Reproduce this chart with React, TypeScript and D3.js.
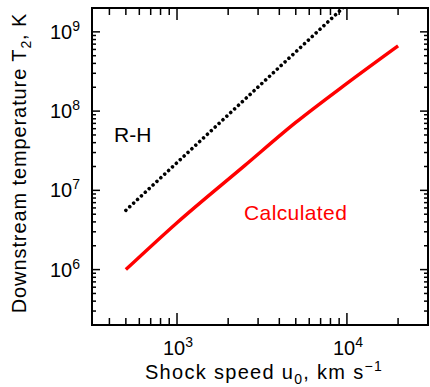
import React, { useEffect, useRef } from 'react'
import * as d3 from 'd3'

// shock speed (km/s) vs downstream temperature (K)
const calcSpeed = [500, 1000, 2500, 5000, 10000, 20000]
const calcTemp = [1.0e6, 3.9e6, 2.05e7, 7.2e7, 2.24e8, 6.66e8]

const rhSpeed = [500, 1000, 2000, 5000, 10000]
const rhTemp = [5.6e6, 2.24e7, 8.96e7, 5.6e8, 2.24e9]

const xDomain = [316, 30000]
const yDomain = [2e5, 2e9]
const xMajor = [1e3, 1e4]
const yMajor = [1e6, 1e7, 1e8, 1e9]

const FONT = '"Liberation Sans", Arial, sans-serif'

export default function App() {
  const svgRef = useRef<SVGSVGElement>(null)

  useEffect(() => {
    const width = 430
    const height = 387
    const margin = { top: 8, right: 2, bottom: 62, left: 92 }
    const left = margin.left
    const right = width - margin.right
    const top = margin.top
    const bottom = height - margin.bottom

    const svg = d3.select(svgRef.current)
    svg.selectAll('*').remove()

    const x = d3.scaleLog().domain(xDomain).range([left, right])
    const y = d3.scaleLog().domain(yDomain).range([bottom, top])

    svg.append('clipPath').attr('id', 'plot-clip')
      .append('rect')
      .attr('x', left).attr('y', top)
      .attr('width', right - left).attr('height', bottom - top)

    // minor ticks
    const xMinor = x.ticks().filter((v) => !xMajor.includes(v))
    const yMinor = y.ticks().filter((v) => !yMajor.includes(v))
    const ticks = svg.append('g').attr('stroke', '#000').attr('stroke-width', 1.5)

    const xTick = (v: number, len: number) => {
      ticks.append('line').attr('x1', x(v)).attr('x2', x(v)).attr('y1', bottom).attr('y2', bottom - len)
      ticks.append('line').attr('x1', x(v)).attr('x2', x(v)).attr('y1', top).attr('y2', top + len)
    }
    const yTick = (v: number, len: number) => {
      ticks.append('line').attr('y1', y(v)).attr('y2', y(v)).attr('x1', left).attr('x2', left + len)
      ticks.append('line').attr('y1', y(v)).attr('y2', y(v)).attr('x1', right).attr('x2', right - len)
    }
    xMinor.forEach((v) => xTick(v, 7))
    xMajor.forEach((v) => xTick(v, 12))
    yMinor.forEach((v) => yTick(v, 4))
    yMajor.forEach((v) => yTick(v, 8))

    // frame
    svg.append('rect')
      .attr('x', left).attr('y', top)
      .attr('width', right - left).attr('height', bottom - top)
      .attr('fill', 'none').attr('stroke', '#000').attr('stroke-width', 2)

    const line = d3.line<[number, number]>()
      .x((d) => x(d[0]))
      .y((d) => y(d[1]))
      .curve(d3.curveMonotoneX)

    const plot = svg.append('g').attr('clip-path', 'url(#plot-clip)')

    plot.append('path')
      .datum(rhSpeed.map((s, i) => [s, rhTemp[i]] as [number, number]))
      .attr('d', line)
      .attr('fill', 'none')
      .attr('stroke', '#000')
      .attr('stroke-width', 3.6)
      .attr('stroke-linecap', 'round')
      .attr('stroke-dasharray', '0.01 5.3')

    plot.append('path')
      .datum(calcSpeed.map((s, i) => [s, calcTemp[i]] as [number, number]))
      .attr('d', line)
      .attr('fill', 'none')
      .attr('stroke', '#ff0000')
      .attr('stroke-width', 3.4)
      .attr('stroke-linejoin', 'round')

    // tick labels
    const exp = (v: number) => String(Math.round(Math.log10(v)))

    xMajor.forEach((v) => {
      const t = svg.append('text')
        .attr('x', x(v) + 1).attr('y', 355)
        .attr('text-anchor', 'middle')
        .attr('font-family', FONT).attr('font-size', 20)
      t.append('tspan').text('10')
      t.append('tspan').attr('font-size', 14).attr('dy', -8).text(exp(v))
    })

    yMajor.forEach((v) => {
      const t = svg.append('text')
        .attr('x', 80).attr('y', y(v) + 7)
        .attr('text-anchor', 'end')
        .attr('font-family', FONT).attr('font-size', 20)
      t.append('tspan').text('10')
      t.append('tspan').attr('font-size', 14).attr('dy', -8).text(exp(v))
    })

    // axis titles
    const xt = svg.append('text')
      .attr('x', 264).attr('y', 379)
      .attr('text-anchor', 'middle')
      .attr('font-family', FONT).attr('font-size', 20)
      .attr('letter-spacing', 1.3)
    xt.append('tspan').text('Shock speed u')
    xt.append('tspan').attr('font-size', 14).attr('dy', 5).text('0')
    xt.append('tspan').attr('dy', -5).text(', km s')
    xt.append('tspan').attr('font-size', 14).attr('dy', -8).text('\u22121')

    const yt = svg.append('text')
      .attr('transform', 'translate(26,163) rotate(-90)')
      .attr('text-anchor', 'middle')
      .attr('font-family', FONT).attr('font-size', 20)
      .attr('letter-spacing', 0.9)
    yt.append('tspan').text('Downstream temperature T')
    yt.append('tspan').attr('font-size', 14).attr('dy', 5).text('2')
    yt.append('tspan').attr('dy', -5).text(', K')

    // annotations
    svg.append('text')
      .attr('x', 114).attr('y', 142)
      .attr('font-family', FONT).attr('font-size', 21)
      .attr('fill', '#000')
      .text('R-H')

    svg.append('text')
      .attr('x', 244).attr('y', 220)
      .attr('font-family', FONT).attr('font-size', 21)
      .attr('letter-spacing', 0.4)
      .attr('fill', '#ff0000')
      .text('Calculated')
  }, [])

  return (
    <svg
      ref={svgRef}
      width={430}
      height={387}
      style={{ position: 'absolute', left: 0, top: 0, background: '#fff' }}
    />
  )
}
